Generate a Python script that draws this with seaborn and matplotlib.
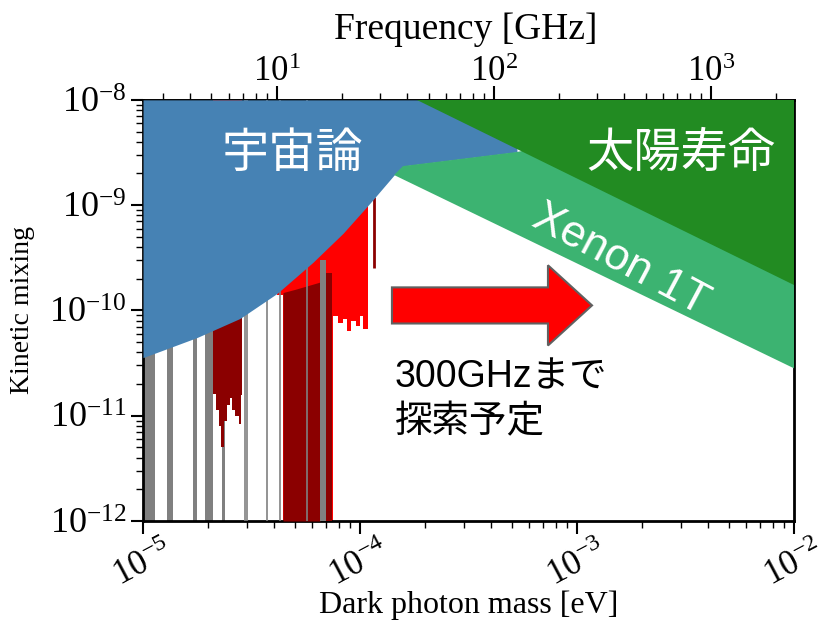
import numpy as np
import matplotlib
matplotlib.use("Agg")
import matplotlib.pyplot as plt
from matplotlib.patches import Polygon
import seaborn as sns

# ---- data (log10 values) ----
# cosmology bound (lower edge of the blue region)
cosmo_logm = [-5.0, -4.751, -4.553, -4.382, -4.217, -4.078, -3.954, -3.843, -3.802, -3.277]
cosmo_logchi = [-10.448, -10.257, -10.076, -9.838, -9.543, -9.267, -8.981, -8.714, -8.629, -8.495]

# solar lifetime bound (chi ~ 1/m)
solar_logm = [-3.737, -2.0]
solar_logchi = [-8.0, -9.76]

# Xenon 1T lower edge
xenon_logm = [-3.843, -2.0]
xenon_logchi = [-8.714, -10.55]

# haloscope exclusions: wide gray bands (x range)
gray_lo = [-5.0, -4.889, -4.770, -4.714, -4.636]
gray_hi = [-4.945, -4.862, -4.751, -4.677, -4.622]
# thin gray lines
gray_lines = [-4.530, -4.521, -4.429, -4.369, -4.244]

# dark red band A (bottom edge profile)
drA_logm = [-4.677, -4.665, -4.650, -4.640, -4.625, -4.612, -4.600, -4.588, -4.575, -4.560, -4.550, -4.544]
drA_bot = [-10.79, -10.95, -11.10, -11.30, -11.05, -10.90, -10.83, -10.95, -11.00, -11.08, -10.80, -10.10]

# dark red band B (top edge profile, reaches bottom)
drB_logm = [-4.355, -4.30, -4.25, -4.20, -4.184]
drB_top = [-9.83, -9.80, -9.77, -9.74, -9.73]
drC_logm = [-4.157, -4.129]
drC_top = [-9.64, -9.64]
# gray band between B and C
grayBC_logm = [-4.184, -4.157]
grayBC_top = -9.52

# red band (bottom edge profile)
red_logm = [-4.382, -4.355, -4.129, -4.125, -4.10, -4.08, -4.06, -4.04, -4.02, -4.00, -3.985, -3.963]
red_bot = [-9.85, -12.0, -12.0, -10.05, -10.12, -10.08, -10.20, -10.10, -10.15, -10.05, -10.18, -9.95]

# thin dark red line
thin_logm = -3.935
thin_range = [-9.60, -8.92]

# arrow outline (log10 m, log10 chi)
arrow_logm = [-3.853, -3.134, -3.134, -2.931, -3.134, -3.134, -3.853]
arrow_logchi = [-9.781, -9.781, -9.571, -9.952, -10.333, -10.124, -10.124]

xticks = [1e-5, 1e-4, 1e-3, 1e-2]
yticks = [1e-12, 1e-11, 1e-10, 1e-9, 1e-8]
fticks = [10, 100, 1000]

GHZ_PER_EV = 1.0 / 4.135667e-6


def p(v):
    return np.power(10.0, np.asarray(v, dtype=float))


sns.set_theme(style="ticks")
plt.rcParams["font.family"] = ["Liberation Serif", "Noto Sans CJK JP"]
plt.rcParams["mathtext.fontset"] = "stix"
plt.rcParams["text.color"] = "black"
plt.rcParams["axes.labelcolor"] = "black"
plt.rcParams["xtick.color"] = "black"
plt.rcParams["ytick.color"] = "black"

fig = plt.figure(figsize=(8.22, 6.24), dpi=100)
ax = fig.add_axes([0.174, 0.165, 0.792, 0.675])
ax.set_xscale("log")
ax.set_yscale("log")
ax.set_xlim(1e-5, 1e-2)
ax.set_ylim(1e-12, 1e-8)

# gray, red, dark red exclusion bands
for lo, hi in zip(gray_lo, gray_hi):
    ax.fill_between(p([lo, hi]), 1e-12, 1e-8, color="#808080", lw=0, zorder=1)
ax.fill_between(p(red_logm), p(red_bot), 1e-8, color="#ff0000", lw=0, step="post", zorder=2)
ax.fill_between(p(drA_logm), p(drA_bot), 1e-8, color="#8b0000", lw=0, step="post", zorder=3)
ax.fill_between(p(drB_logm), 1e-12, p(drB_top), color="#8b0000", lw=0, zorder=3)
ax.fill_between(p(drC_logm), 1e-12, p(drC_top), color="#8b0000", lw=0, zorder=3)
ax.fill_between(p(grayBC_logm), 1e-12, p(grayBC_top), color="#808080", lw=0, zorder=3.5)
for g in gray_lines:
    ax.vlines(p(g), 1e-12, 1e-8, color="#808080", lw=1.2, zorder=3.5)
ax.vlines(p(thin_logm), p(thin_range[0]), p(thin_range[1]), color="#8b0000", lw=2, zorder=3.5)

# cosmology
cm = p(cosmo_logm)
ax.fill_between(cm, p(cosmo_logchi), 1e-8, color="#4682b4", lw=0, zorder=4)

# Xenon 1T band (upper part hidden under the solar region)
xen = list(zip(cm[-3:], p(cosmo_logchi[-3:])))
xen += [(1e-2, 1e-8), (1e-2, p(xenon_logchi[1]))]
ax.add_patch(Polygon(xen, closed=True, fc="#3cb371", ec="none", zorder=5))

# solar lifetime
sol = [(p(solar_logm[0]), 1e-8), (1e-2, 1e-8), (1e-2, p(solar_logchi[1]))]
ax.add_patch(Polygon(sol, closed=True, fc="#228b22", ec="none", zorder=6))

# arrow
ax.add_patch(Polygon(list(zip(p(arrow_logm), p(arrow_logchi))), closed=True,
                     fc="#ff0000", ec="#606060", lw=1.5, zorder=7))

jp = ["Liberation Sans", "Noto Sans CJK JP"]
ax.text(p(-4.313), p(-8.52), "宇宙論", color="white", fontsize=34, family=jp,
        ha="center", va="center", zorder=8)
ax.text(p(-2.52), p(-8.52), "太陽寿命", color="white", fontsize=34, family=jp,
        ha="center", va="center", zorder=8)
ax.text(p(-2.80), p(-9.52), "Xenon 1T", color="white", fontsize=32, family=jp,
        ha="center", va="center", rotation=-28, zorder=8)
ax.text(p(-3.84), p(-10.64), "300GHzまで", color="black", fontsize=27, family=jp,
        ha="left", va="center", zorder=8)
ax.text(p(-3.84), p(-11.06), "探索予定", color="black", fontsize=27, family=jp,
        ha="left", va="center", zorder=8)

# axes styling
ax.set_xticks(xticks)
ax.set_yticks(yticks)
ax.tick_params(axis="both", which="major", length=9, width=1.5, direction="out", labelsize=26)
ax.tick_params(axis="both", which="minor", length=5, width=1, direction="out")
ax.tick_params(axis="x", pad=1, labelsize=25)
ax.tick_params(axis="y", pad=3)
for lab in ax.get_xticklabels():
    lab.set_rotation(28)
for s in ax.spines.values():
    s.set_linewidth(2)
    s.set_color("black")

ax.set_xlabel("Dark photon mass [eV]", fontsize=23, va="center")
ax.xaxis.set_label_coords(0.5, -0.20)
ax.set_ylabel("Kinetic mixing", fontsize=20, va="center")
ax.yaxis.set_label_coords(-0.185, 0.5)

sec = ax.secondary_xaxis("top", functions=(lambda m: m * GHZ_PER_EV, lambda f: f / GHZ_PER_EV))
sec.set_xticks(fticks)
sec.tick_params(which="major", length=10, width=1.5, direction="out", labelsize=25, pad=-2)
sec.tick_params(which="minor", length=5, width=1, direction="out")
sec.spines["top"].set_linewidth(2)
fig.text(0.567, 1 - 30 / 624, "Frequency [GHz]", fontsize=27, ha="center", va="center")

fig.savefig("out.png", dpi=100)
